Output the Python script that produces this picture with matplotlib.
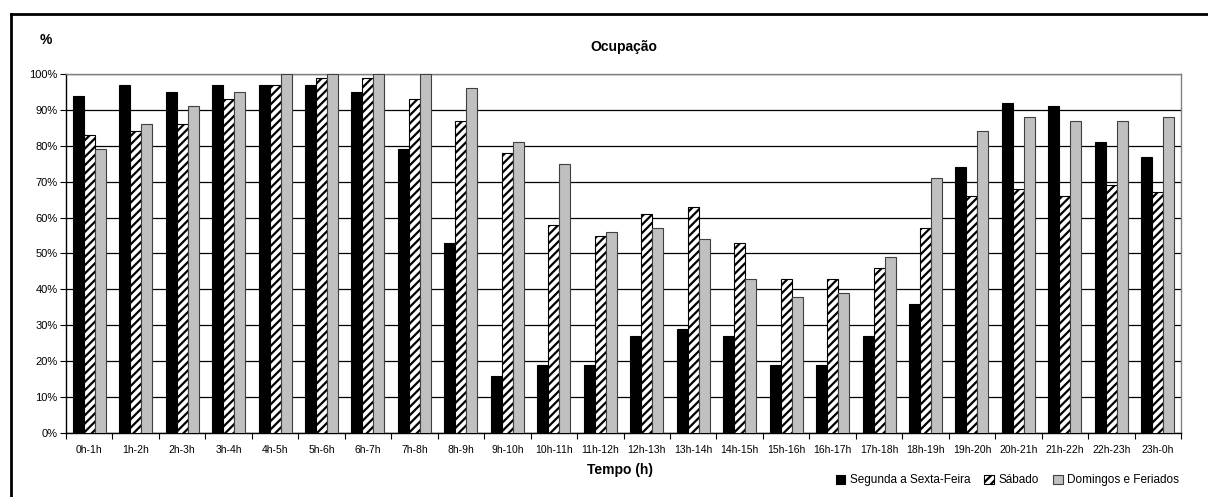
import matplotlib.pyplot as plt
import numpy as np
from matplotlib.lines import Line2D

plt.rcParams['font.family'] = ['Liberation Sans', 'DejaVu Sans']
plt.rcParams['hatch.linewidth'] = 1.6

# horas do dia
horas = ['0h-1h', '1h-2h', '2h-3h', '3h-4h', '4h-5h', '5h-6h', '6h-7h', '7h-8h',
         '8h-9h', '9h-10h', '10h-11h', '11h-12h', '12h-13h', '13h-14h', '14h-15h',
         '15h-16h', '16h-17h', '17h-18h', '18h-19h', '19h-20h', '20h-21h',
         '21h-22h', '22h-23h', '23h-0h']

# ocupacao (%)
seg_sex = [94, 97, 95, 97, 97, 97, 95, 79, 53, 16, 19, 19, 27, 29, 27, 19,
           19, 27, 36, 74, 92, 91, 81, 77]
sabado = [83, 84, 86, 93, 97, 99, 99, 93, 87, 78, 58, 55, 61, 63, 53, 43,
          43, 46, 57, 66, 68, 66, 69, 67]
domingos = [79, 86, 91, 95, 100, 100, 100, 100, 96, 81, 75, 56, 57, 54, 43, 38,
            39, 49, 71, 84, 88, 87, 87, 88]

fig = plt.figure(figsize=(12.08, 4.97), dpi=100)
ax = fig.add_axes([0.0546, 0.1288, 0.9231, 0.7223])

x = np.arange(len(horas))
w = 0.237
ax.bar(x - w, seg_sex, w, color='black', edgecolor='black', linewidth=0.8,
       label='Segunda a Sexta-Feira', zorder=3)
ax.bar(x, sabado, w, color='white', edgecolor='black', hatch='////', linewidth=0.8,
       label='Sábado', zorder=3)
ax.bar(x + w, domingos, w, color='#c0c0c0', edgecolor='#404040', linewidth=0.8,
       label='Domingos e Feriados', zorder=3)

ax.set_xlim(-0.5, len(horas) - 0.5)
ax.set_ylim(0, 100)
ax.set_yticks(np.arange(0, 101, 10))
ax.set_yticklabels([f'{v}%' for v in range(0, 101, 10)], fontsize=8)
ax.set_xticks(x)
ax.set_xticklabels(horas, fontsize=7.5)
ax.set_xticks(np.arange(-0.5, len(horas), 1), minor=True)
ax.tick_params(axis='x', which='major', length=0, pad=9)
ax.tick_params(axis='x', which='minor', length=4, direction='out', width=0.8)
ax.tick_params(axis='y', length=4, width=0.8, pad=2)
ax.grid(axis='y', color='black', linewidth=0.9, zorder=0)
ax.set_axisbelow(True)

ax.spines['left'].set_color('black')
ax.spines['bottom'].set_color('black')
ax.spines['top'].set_color('#808080')
ax.spines['right'].set_color('#808080')
for s in ax.spines.values():
    s.set_linewidth(1.0)

fig.text(0.516, 0.905, 'Ocupação', fontsize=10, fontweight='bold', ha='center', va='center')
fig.text(0.033, 0.92, '%', fontsize=10, fontweight='bold', ha='left', va='center')
fig.text(0.513, 0.055, 'Tempo (h)', fontsize=10, fontweight='bold', ha='center', va='center')

fig.legend(loc='lower right', bbox_to_anchor=(0.985, 0.0), ncol=3, frameon=False,
           fontsize=8.5, handlelength=0.8, handleheight=0.8, handletextpad=0.4,
           columnspacing=1.2)

# moldura do grafico
fig.add_artist(Line2D([0.0095, 0.0095], [0.0, 0.972], color='black', linewidth=2))
fig.add_artist(Line2D([0.0095, 1.0], [0.972, 0.972], color='black', linewidth=2))

fig.savefig('out.png', dpi=100)
